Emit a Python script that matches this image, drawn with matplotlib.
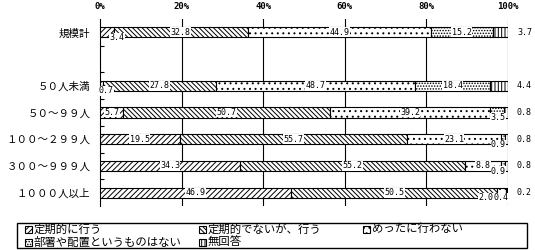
import matplotlib
matplotlib.use("Agg")
import matplotlib.pyplot as plt
from matplotlib.patches import Rectangle
import numpy as np

plt.rcParams['font.family'] = ['Noto Sans CJK JP', 'DejaVu Sans']
plt.rcParams['hatch.linewidth'] = 0.7

categories = ["規模計", "", "５０人未満", "５０～９９人", "１００～２９９人", "３００～９９９人", "１０００人以上"]
series_names = ["定期的に行う", "定期的でないが、行う", "めったに行わない", "部署や配置というものはない", "無回答"]
v_regular = [3.4, None, 0.7, 5.7, 19.5, 34.3, 46.9]
v_irregular = [32.8, None, 27.8, 50.7, 55.7, 55.2, 50.5]
v_rarely = [44.9, None, 48.7, 39.2, 23.1, 8.8, 2.0]
v_nodept = [15.2, None, 18.4, 3.5, 0.9, 0.9, 0.4]
v_noanswer = [3.7, None, 4.4, 0.8, 0.8, 0.8, 0.2]
xtick_values = [0, 20, 40, 60, 80, 100]
xtick_labels = ["0%", "20%", "40%", "60%", "80%", "100%"]

series = [v_regular, v_irregular, v_rarely, v_nodept, v_noanswer]
hatches = ['//////', '\\\\\\\\\\\\\\', '...', '......', '|||||']

W, H = 535, 250
fig = plt.figure(figsize=(W / 100, H / 100), dpi=100)
ax = fig.add_axes([100 / W, 1 - 206 / H, (508 - 100) / W, (206 - 19) / H])

ypos = np.arange(len(categories))
bar_h = 0.38
mono = dict(family='DejaVu Sans Mono', fontsize=6.0)
bbox = dict(facecolor='white', edgecolor='none', pad=0.3)

for i, y in enumerate(ypos):
    if v_regular[i] is None:
        continue
    left = 0.0
    vals = [s[i] for s in series]
    for j, v in enumerate(vals):
        ax.barh(y, v, left=left, height=bar_h, color='white', edgecolor='black',
                hatch=hatches[j], linewidth=0.8, zorder=3)
        end = left + v
        label = f"{v:.1f}"
        if j == len(vals) - 1:
            ax.text(102.2, y, label, ha='left', va='center', zorder=5, **mono)
        elif v >= 5:
            ax.text(left + v / 2, y, label, ha='center', va='center', zorder=5,
                    bbox=bbox, **mono)
        elif j == 0:
            ax.text(end + 0.8, y + 0.19, label, ha='center', va='center', zorder=5,
                    bbox=bbox, **mono)
        else:
            nxt = vals[j + 1]
            if j + 1 < len(vals) - 1 and nxt < 5:
                xr = end - 3.0
            else:
                xr = end + 0.3
            ax.text(xr, y + 0.2, label, ha='right', va='center', zorder=5,
                    bbox=bbox, **mono)
        left = end

ax.set_xlim(0, 100)
ax.set_ylim(len(categories) - 0.5, -0.5)
ax.set_xticks(xtick_values)
ax.set_xticklabels(xtick_labels, family='DejaVu Sans Mono', fontsize=6.5, fontweight='bold')
ax.xaxis.tick_top()
ax.tick_params(axis='x', length=0, pad=6)
ax.set_yticks(ypos)
ax.set_yticklabels(categories, fontsize=7.6)
ax.tick_params(axis='y', length=0, pad=7)
ax.set_yticks(np.arange(len(categories) - 1) + 0.5, minor=True)
ax.tick_params(axis='y', which='minor', direction='in', length=3, width=0.8)
for s in ['top', 'bottom', 'right']:
    ax.spines[s].set_visible(False)
ax.spines['left'].set_linewidth(0.8)
for xv in xtick_values[1:]:
    ax.axvline(xv, color='black', linewidth=0.8, zorder=1)

# legend (drawn manually to match fixed column pitch)
leg_cols = [25, 199, 363]
leg_rows = [229, 242]
for k, name in enumerate(series_names):
    cx = leg_cols[k % 3]
    cy = leg_rows[k // 3]
    fig.patches.append(Rectangle((cx / W, 1 - (cy + 3.5) / H), 7 / W, 7 / H,
                                 transform=fig.transFigure, facecolor='white',
                                 edgecolor='black', hatch=hatches[k], linewidth=0.8))
    fig.text((cx + 9) / W, 1 - cy / H, name, ha='left', va='center', fontsize=8.2)
fig.patches.append(Rectangle((17 / W, 2 / H), (527 - 17) / W, (248 - 223) / H,
                             transform=fig.transFigure, fill=False, edgecolor='black',
                             linewidth=1.0))

fig.savefig("out.png", dpi=100)
